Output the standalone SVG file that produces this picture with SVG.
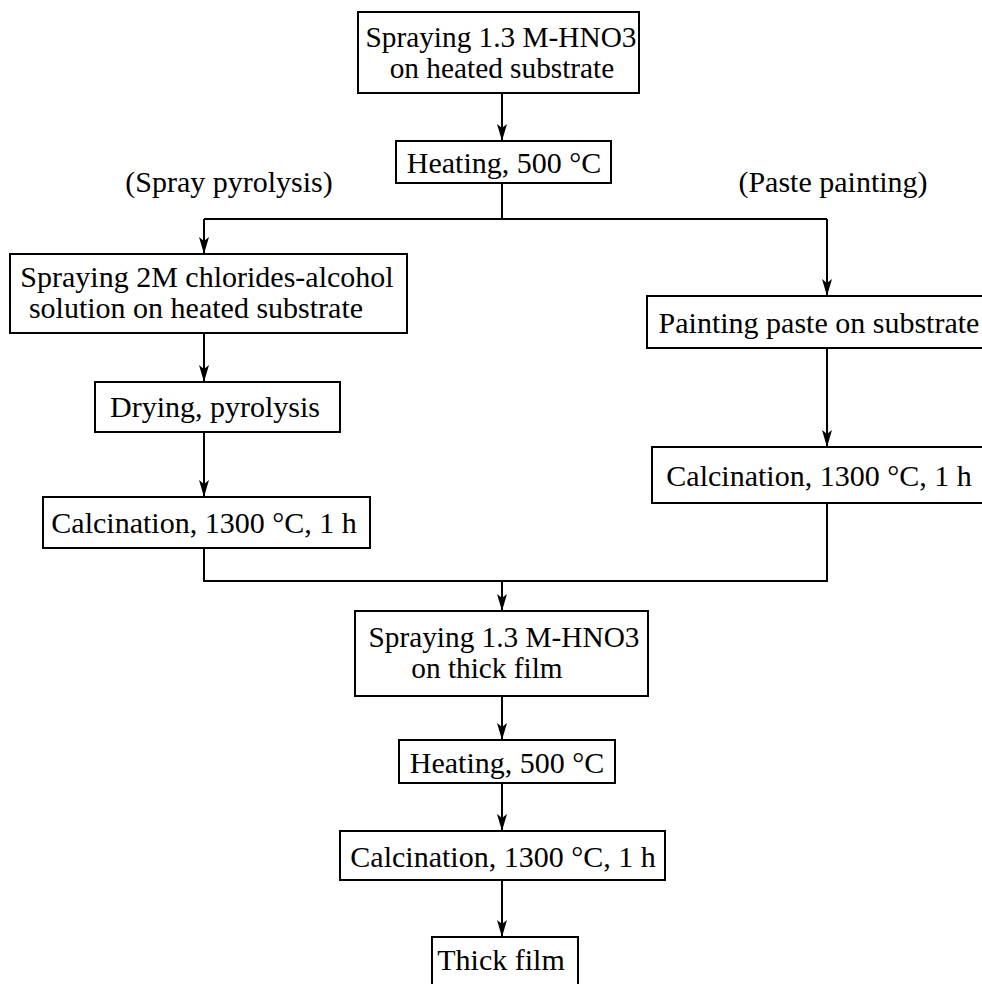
<svg xmlns="http://www.w3.org/2000/svg" width="982" height="984" viewBox="0 0 982 984">
<style>
.box{fill:#fff;stroke:#000;stroke-width:2}
.ln{fill:none;stroke:#000;stroke-width:2}
text{font-family:"Liberation Serif","Times New Roman",serif;font-size:30px;fill:#000;text-anchor:middle}
.s{font-size:29.3px}
</style>
<defs>
<marker id="ah" markerUnits="userSpaceOnUse" markerWidth="20" markerHeight="12" refX="17" refY="5" orient="auto">
<path d="M0,0 L17,5 L0,10 L4,5 z" fill="#000"/>
</marker>
</defs>
<rect width="982" height="984" fill="#fff"/>
<g id="connectors">
<path class="ln" d="M502,93 V141" marker-end="url(#ah)"/>
<path class="ln" d="M502,183 V219 M204,219 H827"/>
<path class="ln" d="M204,219 V254" marker-end="url(#ah)"/>
<path class="ln" d="M827,219 V296" marker-end="url(#ah)"/>
<path class="ln" d="M204,333 V382" marker-end="url(#ah)"/>
<path class="ln" d="M204,432 V497" marker-end="url(#ah)"/>
<path class="ln" d="M827,348 V447" marker-end="url(#ah)"/>
<path class="ln" d="M204,548 V581 H827 V503"/>
<path class="ln" d="M502,581 V611" marker-end="url(#ah)"/>
<path class="ln" d="M502,696 V740" marker-end="url(#ah)"/>
<path class="ln" d="M502,783 V831" marker-end="url(#ah)"/>
<path class="ln" d="M502,880 V937" marker-end="url(#ah)"/>
</g>
<text x="229" y="192">(Spray pyrolysis)</text>
<text x="833" y="192">(Paste painting)</text>
<g id="n1"><rect class="box" x="358" y="12" width="281" height="81"/><text class="s" x="501" y="47">Spraying 1.3 M-HNO3</text><text class="s" x="502" y="78">on heated substrate</text></g>
<g id="n2"><rect class="box" x="396" y="141" width="215" height="42"/><text x="504" y="173">Heating, 500 °C</text></g>
<g id="n3"><rect class="box" x="10" y="254" width="397" height="79"/><text x="207" y="287">Spraying 2M chlorides-alcohol</text><text x="196" y="318">solution on heated substrate</text></g>
<g id="n4"><rect class="box" x="95" y="382" width="245" height="50"/><text x="215" y="417">Drying, pyrolysis</text></g>
<g id="n5"><rect class="box" x="43" y="497" width="327" height="51"/><text x="204" y="533">Calcination, 1300 °C, 1 h</text></g>
<g id="n6"><rect class="box" x="647" y="296" width="345" height="52"/><text x="819" y="333">Painting paste on substrate</text></g>
<g id="n7"><rect class="box" x="652" y="447" width="340" height="56"/><text x="819" y="486">Calcination, 1300 °C, 1 h</text></g>
<g id="n8"><rect class="box" x="355" y="611" width="293" height="85"/><text class="s" x="504" y="647">Spraying 1.3 M-HNO3</text><text class="s" x="487" y="678">on thick film</text></g>
<g id="n9"><rect class="box" x="399" y="740" width="216" height="43"/><text x="507" y="773">Heating, 500 °C</text></g>
<g id="n10"><rect class="box" x="340" y="831" width="325" height="49"/><text x="503" y="867">Calcination, 1300 °C, 1 h</text></g>
<g id="n11"><rect class="box" x="432" y="937" width="146" height="60"/><text x="501" y="970">Thick film</text></g>
</svg>
